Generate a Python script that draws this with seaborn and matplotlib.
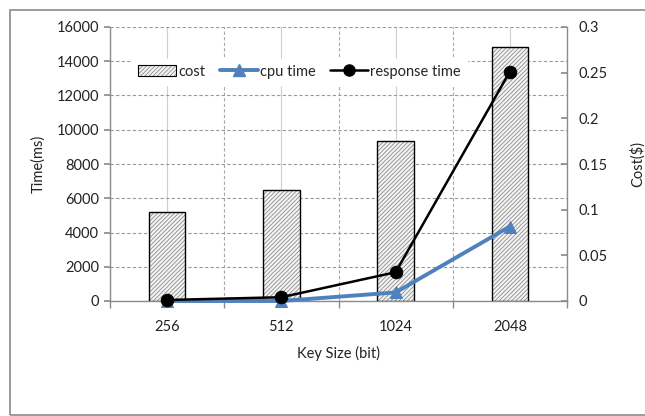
import matplotlib
matplotlib.use("Agg")
import matplotlib.pyplot as plt
import seaborn as sns
import pandas as pd
import numpy as np
from matplotlib.patches import Rectangle
from matplotlib.lines import Line2D
from matplotlib.patches import Patch

key_sizes = ["256", "512", "1024", "2048"]
cost = [0.097, 0.122, 0.175, 0.278]
cpu_time = [0, 0, 500, 4350]
response_time = [60, 220, 1680, 13400]

sns.set_theme(style="white")
plt.rcParams['font.family'] = ['Lato', 'DejaVu Sans']
plt.rcParams['hatch.color'] = '#8a8a8a'
plt.rcParams['hatch.linewidth'] = 0.6

HATCH = '////////'
HATCH_COLOR = '#8c8c8c'


def set_hc(p):
    if hasattr(p, 'set_hatchcolor'):
        p.set_hatchcolor(HATCH_COLOR)
    else:
        p._hatch_color = matplotlib.colors.to_rgba(HATCH_COLOR)


fig = plt.figure(figsize=(6.45, 4.16), dpi=100)
fig.patch.set_facecolor('white')
fig.add_artist(Rectangle((10/645, 1-415/416), 700/645, 405/416, transform=fig.transFigure,
                         fill=False, edgecolor='#8a8a8a', linewidth=1.2))

ax = fig.add_axes([110/645, 1-301/416, 457/645, 274/416])
ax2 = ax.twinx()

df = pd.DataFrame({"key": key_sizes, "cost": cost, "cpu": cpu_time, "resp": response_time})
x = np.arange(len(key_sizes))

# gridlines
ax.set_xlim(-0.5, 3.5)
ax.set_ylim(0, 16000)
ax.set_yticks(np.arange(0, 16001, 2000))
ax.set_xticks(x)
ax.set_xticklabels(key_sizes)
ax.set_xticks(np.arange(-0.5, 3.6, 1.0), minor=True)
ax.grid(axis='y', which='major', color='#9a9a9a', linestyle=(0, (3, 2)), linewidth=0.8)
ax.grid(axis='x', which='major', color='#d0d0d0', linestyle='-', linewidth=0.8)
ax.grid(axis='x', which='minor', color='#a8a8a8', linestyle=(0, (3, 2)), linewidth=0.8)
ax.set_axisbelow(True)

# bars on secondary axis
ax2.set_ylim(0, 0.3)
ax2.set_yticks([0, 0.05, 0.1, 0.15, 0.2, 0.25, 0.3])
ax2.set_yticklabels(["0", "0.05", "0.1", "0.15", "0.2", "0.25", "0.3"])
sns.barplot(data=df, x="key", y="cost", ax=ax2, width=0.32, color='#f4f4f4',
            edgecolor='black', linewidth=1.0)
for p in ax2.patches:
    p.set_hatch(HATCH)
    p.set_facecolor('#f4f4f4')
    set_hc(p)
ax2.set_xlim(-0.5, 3.5)
ax2.set_ylim(0, 0.3)
ax2.set_ylabel("Cost($)", fontsize=10.5, color='#222222', labelpad=16)
ax2.set_xlabel("")

# overlay axes for lines so they draw above bars
ax3 = fig.add_axes(ax.get_position(), sharex=ax, sharey=ax)
ax3.patch.set_visible(False)
ax3.axis('off')
sns.lineplot(x=x, y=df["cpu"], ax=ax3, color='#4f81bd', linewidth=2.8, marker='^',
             markersize=9, markeredgecolor='#4f81bd', legend=False)
sns.lineplot(x=x, y=df["resp"], ax=ax3, color='black', linewidth=1.8, marker='o',
             markersize=9, markeredgecolor='black', legend=False)
for ln in ax3.lines:
    ln.set_clip_on(False)
ax3.set_xlim(-0.5, 3.5)
ax3.set_ylim(0, 16000)

ax.set_ylabel("Time(ms)", fontsize=10.5, color='#222222', labelpad=8)
ax.set_xlabel("Key Size (bit)", fontsize=10.5, color='#222222', labelpad=8)

for a in (ax, ax2):
    for s in a.spines.values():
        s.set_visible(False)
ax.spines['left'].set_visible(True)
ax.spines['bottom'].set_visible(True)
ax2.spines['right'].set_visible(True)
for s in (ax.spines['left'], ax.spines['bottom'], ax2.spines['right']):
    s.set_color('#8c8c8c')
    s.set_linewidth(1.0)

ax.tick_params(axis='y', which='major', left=True, length=4, color='#8c8c8c',
               labelsize=10.5, labelcolor='#222222', pad=4)
ax.tick_params(axis='x', which='major', bottom=False, labelsize=10.5, labelcolor='#222222', pad=8)
ax.tick_params(axis='x', which='minor', bottom=True, length=5, color='#8c8c8c')
ax2.tick_params(axis='y', right=True, length=4, direction='in', color='#8c8c8c',
                labelsize=10.5, labelcolor='#222222', pad=8)

cost_patch = Patch(facecolor='#f4f4f4', edgecolor='black', hatch=HATCH, linewidth=0.8, label='cost')
handles = [cost_patch,
           Line2D([0], [0], color='#4f81bd', lw=2.8, marker='^', markersize=8, label='cpu time'),
           Line2D([0], [0], color='black', lw=1.8, marker='o', markersize=8, label='response time')]
leg = ax3.legend(handles=handles, loc='upper center', bbox_to_anchor=(0.415, 0.91), ncol=3,
                 frameon=True, fontsize=10.5, handlelength=2.6, handleheight=0.8,
                 handletextpad=0.15, columnspacing=1.0, borderpad=0.4, fancybox=False)
for h in leg.legend_handles:
    if isinstance(h, matplotlib.patches.Patch):
        set_hc(h)
leg.get_frame().set_edgecolor('white')
leg.get_frame().set_facecolor('white')
leg.get_frame().set_alpha(1.0)

fig.savefig("out.png", dpi=100)
